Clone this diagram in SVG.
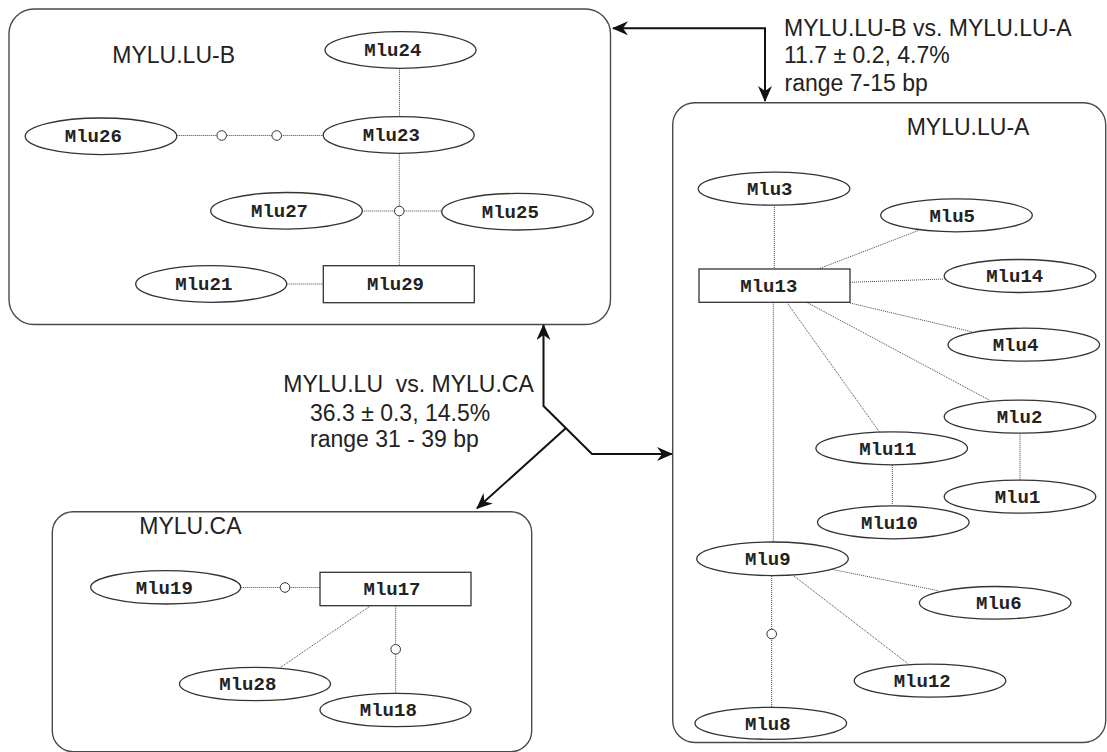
<svg xmlns="http://www.w3.org/2000/svg" width="1107" height="752" viewBox="0 0 1107 752">
<defs>
<style>
.grp{fill:#fff;stroke:#4a4a4a;stroke-width:1.4}
.nd{fill:#fff;stroke:#333;stroke-width:1.3}
.nt{font-family:"Liberation Mono","Courier New",monospace;font-weight:bold;font-size:19px;fill:#222;text-anchor:middle}
.lbl{font-family:"Liberation Sans",Arial,sans-serif;font-size:23px;fill:#222}
.dl{fill:none;stroke:#444;stroke-width:1;stroke-dasharray:1 1}
.mc{fill:#fff;stroke:#333;stroke-width:1}
.ar{fill:none;stroke:#111;stroke-width:2}
</style>
<marker id="ah" viewBox="0 0 16 14" refX="15" refY="7" markerWidth="16" markerHeight="14" markerUnits="userSpaceOnUse" orient="auto-start-reverse">
<path d="M0,0 L16,7 L0,14 L5,7 z" fill="#111"/>
</marker>
</defs>

<!-- group boxes -->
<g id="group-B"><rect class="grp" x="9" y="9" width="601.5" height="315.5" rx="25" ry="25"/>
<text class="lbl" x="112.3" y="62.7">MYLU.LU-B</text></g>
<g id="group-A"><rect class="grp" x="672.7" y="102.7" width="433" height="639.8" rx="22" ry="22"/>
<text class="lbl" x="906.7" y="135">MYLU.LU-A</text></g>
<g id="group-CA"><rect class="grp" x="52.3" y="511.7" width="479.4" height="240" rx="21" ry="21"/>
<text class="lbl" x="139.3" y="534">MYLU.CA</text></g>

<!-- connectors -->
<g id="connectors">
<line class="dl" x1="399.5" y1="68.3" x2="399.5" y2="116.7"/>
<line class="dl" x1="176.7" y1="135.5" x2="323.3" y2="135.5"/>
<line class="dl" x1="399.3" y1="153.7" x2="399.3" y2="265.7"/>
<line class="dl" x1="362.3" y1="211" x2="441.7" y2="211"/>
<line class="dl" x1="286.7" y1="284" x2="323.3" y2="284"/>
<circle class="mc" cx="221.7" cy="135.5" r="4.8"/>
<circle class="mc" cx="276.7" cy="135.5" r="4.8"/>
<circle class="mc" cx="399.3" cy="211" r="4.8"/>

<line class="dl" x1="240.7" y1="587.5" x2="320" y2="587.5"/>
<line class="dl" x1="370.7" y1="605.7" x2="280.4" y2="667.5"/>
<line class="dl" x1="395.7" y1="605.7" x2="395.7" y2="693.3"/>
<circle class="mc" cx="285" cy="587.5" r="4.8"/>
<circle class="mc" cx="395.7" cy="649.3" r="4.8"/>

<line class="dl" x1="774.3" y1="205" x2="774.3" y2="269"/>
<line class="dl" x1="818.3" y1="269" x2="918.3" y2="230.5"/>
<line class="dl" x1="850" y1="282.3" x2="944.3" y2="279"/>
<line class="dl" x1="850" y1="303" x2="971.7" y2="331.7"/>
<line class="dl" x1="806.7" y1="302.3" x2="990" y2="400.5"/>
<line class="dl" x1="786.7" y1="302.3" x2="879.3" y2="431.7"/>
<line class="dl" x1="773.3" y1="302.3" x2="773.3" y2="541.7"/>
<line class="dl" x1="892.3" y1="465" x2="892.3" y2="505.7"/>
<line class="dl" x1="1020" y1="433.3" x2="1020" y2="480"/>
<line class="dl" x1="831.7" y1="569.3" x2="938.3" y2="590.7"/>
<line class="dl" x1="794" y1="576" x2="908.3" y2="664"/>
<line class="dl" x1="771.7" y1="576" x2="771.7" y2="707.3"/>
<circle class="mc" cx="771.7" cy="634" r="4.8"/>

<path class="ar" d="M613,28.3 H765 V101" marker-start="url(#ah)" marker-end="url(#ah)"/>
<path class="ar" d="M543.5,325 V406 L592,454 H672" marker-start="url(#ah)" marker-end="url(#ah)"/>
<path class="ar" d="M566,428 L477,508.3" marker-end="url(#ah)"/>
</g>

<!-- comparison labels -->
<g id="label-BA">
<text class="lbl" x="784" y="36">MYLU.LU-B vs. MYLU.LU-A</text>
<text class="lbl" x="784" y="63.3">11.7 ± 0.2, 4.7%</text>
<text class="lbl" x="784.5" y="91">range 7-15 bp</text>
</g>
<g id="label-LUCA">
<text class="lbl" x="283.3" y="391.7">MYLU.LU&#160; vs. MYLU.CA</text>
<text class="lbl" x="310" y="420.7">36.3 ± 0.3, 14.5%</text>
<text class="lbl" x="310" y="446.7">range 31 - 39 bp</text>
</g>

<!-- nodes: MYLU.LU-B -->
<g id="Mlu24"><ellipse class="nd" cx="400.5" cy="50" rx="75.5" ry="18.3"/><text class="nt" x="392.8" y="56">Mlu24</text></g>
<g id="Mlu23"><ellipse class="nd" cx="398.7" cy="135" rx="75.5" ry="18.3"/><text class="nt" x="391.3" y="141">Mlu23</text></g>
<g id="Mlu26"><ellipse class="nd" cx="101" cy="136.3" rx="75.8" ry="18.3"/><text class="nt" x="93.3" y="142.3">Mlu26</text></g>
<g id="Mlu27"><ellipse class="nd" cx="286.5" cy="210.8" rx="75.8" ry="18.3"/><text class="nt" x="279.5" y="216.8">Mlu27</text></g>
<g id="Mlu25"><ellipse class="nd" cx="517.5" cy="211.7" rx="75.8" ry="18.3"/><text class="nt" x="510.3" y="217.7">Mlu25</text></g>
<g id="Mlu21"><ellipse class="nd" cx="211.2" cy="284" rx="75.5" ry="18.3"/><text class="nt" x="203.8" y="290">Mlu21</text></g>
<g id="Mlu29"><rect class="nd" x="323.3" y="265.7" width="151" height="37"/><text class="nt" x="395.5" y="290.3">Mlu29</text></g>

<!-- nodes: MYLU.LU-A -->
<g id="Mlu3"><ellipse class="nd" cx="774" cy="188.7" rx="75.8" ry="16.5"/><text class="nt" x="769.7" y="195">Mlu3</text></g>
<g id="Mlu5"><ellipse class="nd" cx="956.5" cy="215.3" rx="75.8" ry="16.5"/><text class="nt" x="952.2" y="221.6">Mlu5</text></g>
<g id="Mlu13"><rect class="nd" x="699" y="269" width="151" height="33.3"/><text class="nt" x="768.8" y="292.3">Mlu13</text></g>
<g id="Mlu14"><ellipse class="nd" cx="1020" cy="276" rx="75.8" ry="16.5"/><text class="nt" x="1014.7" y="282.3">Mlu14</text></g>
<g id="Mlu4"><ellipse class="nd" cx="1023.8" cy="344.7" rx="75.8" ry="16.5"/><text class="nt" x="1015.5" y="351">Mlu4</text></g>
<g id="Mlu2"><ellipse class="nd" cx="1020" cy="416.7" rx="75.8" ry="16.5"/><text class="nt" x="1019.5" y="423">Mlu2</text></g>
<g id="Mlu11"><ellipse class="nd" cx="891.7" cy="448.3" rx="75.8" ry="16.5"/><text class="nt" x="887.8" y="454.6">Mlu11</text></g>
<g id="Mlu1"><ellipse class="nd" cx="1020" cy="496.7" rx="75.8" ry="16.5"/><text class="nt" x="1017.5" y="503">Mlu1</text></g>
<g id="Mlu10"><ellipse class="nd" cx="893.3" cy="522.3" rx="75.8" ry="16.5"/><text class="nt" x="889.5" y="528.6">Mlu10</text></g>
<g id="Mlu9"><ellipse class="nd" cx="772.5" cy="558.8" rx="75.8" ry="16.8"/><text class="nt" x="767.8" y="565">Mlu9</text></g>
<g id="Mlu6"><ellipse class="nd" cx="995.2" cy="602.8" rx="75.8" ry="16.3"/><text class="nt" x="998.8" y="609.1">Mlu6</text></g>
<g id="Mlu12"><ellipse class="nd" cx="930" cy="680.7" rx="75.8" ry="16.5"/><text class="nt" x="922.2" y="687">Mlu12</text></g>
<g id="Mlu8"><ellipse class="nd" cx="770.8" cy="723.3" rx="75.8" ry="16"/><text class="nt" x="767.8" y="729.6">Mlu8</text></g>

<!-- nodes: MYLU.CA -->
<g id="Mlu19"><ellipse class="nd" cx="165.7" cy="587.3" rx="75" ry="16.7"/><text class="nt" x="164.3" y="593.5">Mlu19</text></g>
<g id="Mlu17"><rect class="nd" x="320" y="572.3" width="151" height="33.4"/><text class="nt" x="392" y="595.3">Mlu17</text></g>
<g id="Mlu28"><ellipse class="nd" cx="255" cy="684" rx="75.5" ry="16.7"/><text class="nt" x="247.8" y="690.3">Mlu28</text></g>
<g id="Mlu18"><ellipse class="nd" cx="395.5" cy="710" rx="75.5" ry="16.7"/><text class="nt" x="388.3" y="716.3">Mlu18</text></g>
</svg>
